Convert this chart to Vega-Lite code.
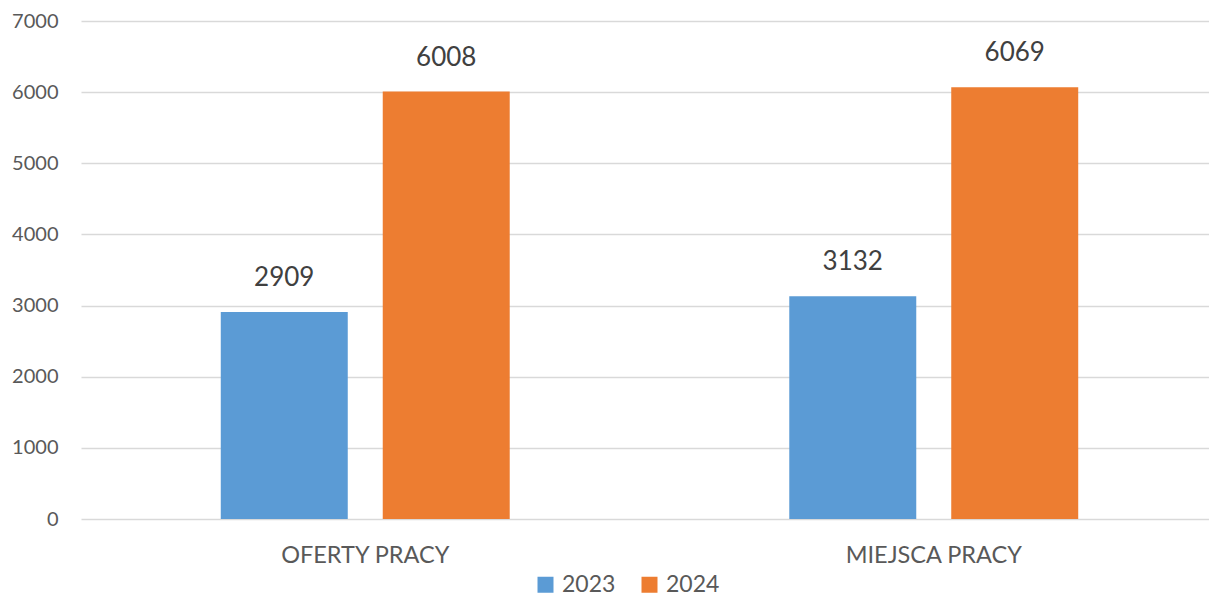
{
  "$schema": "https://vega.github.io/schema/vega-lite/v6.json",
  "width": 1137,
  "height": 498,
  "autosize": {"type": "none"},
  "padding": {"left": 81, "top": 21, "right": 0, "bottom": 77},
  "background": "white",
  "config": {
    "view": {"stroke": null},
    "font": "Lato"
  },
  "data": {
    "values": [
      {"kategoria": "OFERTY PRACY", "rok": "2023", "wartosc": 2909},
      {"kategoria": "OFERTY PRACY", "rok": "2024", "wartosc": 6008},
      {"kategoria": "MIEJSCA PRACY", "rok": "2023", "wartosc": 3132},
      {"kategoria": "MIEJSCA PRACY", "rok": "2024", "wartosc": 6069}
    ]
  },
  "encoding": {
    "x": {
      "field": "kategoria",
      "type": "nominal",
      "sort": ["OFERTY PRACY", "MIEJSCA PRACY"],
      "scale": {"paddingInner": 0, "paddingOuter": 0},
      "axis": {
        "title": null,
        "labelAngle": 0,
        "domain": false,
        "ticks": false,
        "labelFontSize": 23.5,
        "labelColor": "#595959",
        "labelPadding": 24
      }
    },
    "xOffset": {
      "field": "rok",
      "type": "nominal",
      "scale": {"paddingInner": 0.216, "paddingOuter": 0.863}
    },
    "y": {
      "field": "wartosc",
      "type": "quantitative",
      "scale": {"domain": [0, 7000]},
      "axis": {
        "title": null,
        "values": [0, 1000, 2000, 3000, 4000, 5000, 6000, 7000],
        "format": "d",
        "domain": false,
        "ticks": false,
        "labelFontSize": 20,
        "labelColor": "#595959",
        "labelPadding": 23,
        "gridColor": "#d9d9d9",
        "gridWidth": 1.5
      }
    }
  },
  "layer": [
    {
      "mark": {"type": "bar"},
      "encoding": {
        "color": {
          "field": "rok",
          "type": "nominal",
          "scale": {"domain": ["2023", "2024"], "range": ["#5B9BD5", "#ED7D31"]},
          "legend": {
            "title": null,
            "orient": "none",
            "direction": "horizontal",
            "legendX": 453,
            "legendY": 552,
            "symbolType": "square",
            "symbolSize": 256,
            "symbolStrokeWidth": 0,
            "symbolOpacity": 1,
            "labelFontSize": 23,
            "labelColor": "#595959",
            "labelOffset": 5,
            "columnPadding": 22
          }
        }
      }
    },
    {
      "mark": {"type": "text", "baseline": "alphabetic", "dy": -26, "fontSize": 26, "color": "#404040"},
      "encoding": {
        "text": {"field": "wartosc", "type": "quantitative", "format": "d"}
      }
    }
  ]
}
